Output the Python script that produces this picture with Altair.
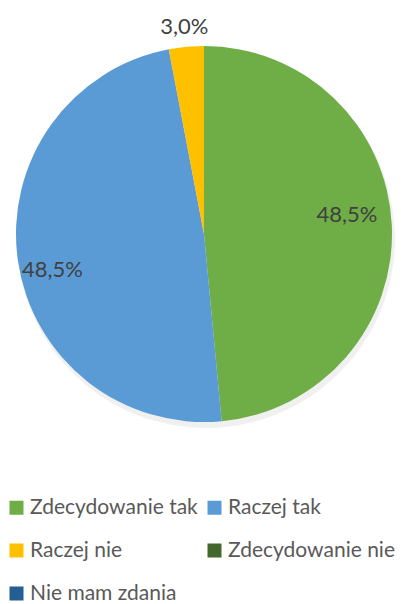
import altair as alt
import pandas as pd

categories = ["Zdecydowanie tak", "Raczej tak", "Raczej nie", "Zdecydowanie nie", "Nie mam zdania"]
values = [48.5, 48.5, 3.0, 0.0, 0.0]
colors = ["#6FAD46", "#5B9BD5", "#FFC000", "#43682B", "#255E91"]

labels = [f"{v:.1f}".replace(".", ",") + "%" for v in values]
df = pd.DataFrame({"cat": categories, "value": values, "label": labels, "idx": list(range(len(categories)))})

FONT = "Lato"
CX, CY, R = 196, 226, 188

base = alt.Chart(df).encode(
    theta=alt.Theta("value:Q", stack=True),
    order=alt.Order("idx:Q"),
)

shadow = base.mark_arc(outerRadius=R + 1, color="#000000", opacity=0.06).encode(
    x=alt.value(CX + 2),
    y=alt.value(CY + 5),
)

pie = base.mark_arc(outerRadius=R).encode(
    x=alt.value(CX),
    y=alt.value(CY),
    color=alt.Color(
        "cat:N",
        scale=alt.Scale(domain=categories, range=colors),
        sort=categories,
        legend=alt.Legend(
            title=None,
            orient="none",
            direction="horizontal",
            legendX=-2,
            legendY=489,
            padding=0,
            columns=2,
            symbolType="square",
            symbolSize=196,
            symbolStrokeWidth=0,
            labelFont=FONT,
            labelFontSize=21,
            labelColor="#595959",
            labelOffset=3,
            rowPadding=21,
            columnPadding=6,
            labelLimit=300,
        ),
    ),
)


def lbl(i, dy, r):
    return base.mark_text(font=FONT, fontSize=22, color="#404040", dy=dy).encode(
        x=alt.value(CX),
        y=alt.value(CY),
        text="label:N",
        radius=alt.value(r),
        opacity=alt.condition(alt.datum.idx == i, alt.value(1), alt.value(0)),
    )


text = alt.layer(lbl(0, -12, 143), lbl(1, 14, 153), lbl(2, 0, 208))

chart = alt.layer(shadow, pie, text).properties(
    width=393, height=596, padding=0, autosize=alt.AutoSizeParams(type="none")
).configure_view(stroke=None)

chart.save("out.html", embed_options={"renderer": "svg", "actions": False})
